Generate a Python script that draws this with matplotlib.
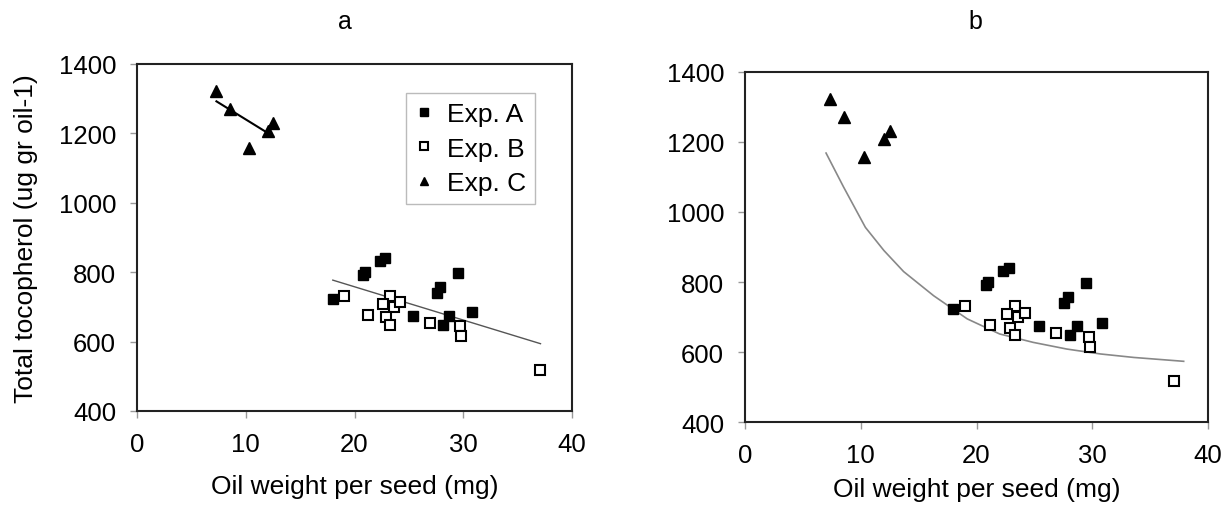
import numpy as np
import matplotlib
matplotlib.use('Agg')
import matplotlib.pyplot as plt

plt.rcParams['font.family'] = ['Liberation Sans', 'DejaVu Sans']

# Exp. A (filled squares)
a_x = [18.0, 20.8, 21.0, 22.3, 22.8, 25.4, 27.6, 27.9, 29.5, 28.1, 28.7, 30.8]
a_y = [723, 792, 800, 833, 841, 675, 739, 758, 797, 649, 675, 684]
# Exp. B (open squares)
b_x = [19.0, 21.2, 23.3, 22.6, 23.6, 24.2, 22.9, 23.3, 26.9, 29.7, 29.8, 37.1]
b_y = [732, 678, 732, 708, 699, 713, 670, 648, 654, 644, 615, 518]
# Exp. C (triangles)
c_x = [7.3, 8.55, 10.3, 12.0, 12.5]
c_y = [1323, 1270, 1157, 1208, 1230]

# model curve in panel b
curve_x = [7.0, 8.5, 10.4, 12.0, 13.7, 16.3, 19.2, 22.0, 24.9, 27.8, 30.7, 33.6, 37.9]
curve_y = [1168, 1072, 956, 890, 830, 761, 695, 652, 628, 609, 595, 585, 574]

xticks = [0, 10, 20, 30, 40]
yticks = [400, 600, 800, 1000, 1200, 1400]

fig = plt.figure(figsize=(12.27, 5.06), dpi=100)
ax1 = fig.add_axes([0.1117, 0.1858, 0.3545, 0.6858])
ax2 = fig.add_axes([0.6072, 0.1634, 0.3773, 0.6929])

ms_sq = 7.2
ms_tri = 8.5
fs = 18.5

for ax in (ax1, ax2):
    ax.plot(a_x, a_y, 's', color='black', ms=ms_sq, mec='black', label='Exp. A', zorder=3)
    ax.plot(b_x, b_y, 's', color='white', ms=ms_sq, mec='black', mew=1.5, label='Exp. B', zorder=3)
    ax.plot(c_x, c_y, '^', color='black', ms=ms_tri, mec='black', label='Exp. C', zorder=3)
    ax.set_xlim(0, 40)
    ax.set_ylim(400, 1400)
    ax.set_xticks(xticks)
    ax.set_yticks(yticks)
    ax.tick_params(direction='out', length=5, width=1, color='#999999',
                   labelsize=fs, pad=10)
    for s in ax.spines.values():
        s.set_linewidth(1.5)
        s.set_color('#222222')
    ax.set_xlabel('Oil weight per seed (mg)', fontsize=19)
    ax.xaxis.label.set_va('center')

# trend lines in panel a
k = np.polyfit(c_x, c_y, 1)
xs = np.array([min(c_x), max(c_x)])
ax1.plot(xs, np.polyval(k, xs), color='black', lw=1.5, zorder=2)

ab_x = a_x + b_x
ab_y = a_y + b_y
k = np.polyfit(ab_x, ab_y, 1)
xs = np.array([min(ab_x), max(ab_x)])
ax1.plot(xs, np.polyval(k, xs), color='#555555', lw=1.0, zorder=2)

ax2.plot(curve_x, curve_y, color='#888888', lw=1.2, zorder=2)

ax1.set_ylabel('Total tocopherol (ug gr oil-1)', fontsize=19)
ax1.yaxis.label.set_va('center')
ax1.yaxis.set_label_coords(-0.255, 0.5)
ax1.xaxis.set_label_coords(0.5, -0.216)
ax2.xaxis.set_label_coords(0.5, -0.19)

leg = ax1.legend(loc='upper right', fontsize=19, markerscale=0.75, frameon=True,
                 fancybox=False, edgecolor='#aaaaaa', handlelength=0.7,
                 handletextpad=0.5, borderpad=0.35, labelspacing=0.4,
                 bbox_to_anchor=(0.945, 0.955))
leg.get_frame().set_linewidth(1.0)

fig.text(0.2812, 1 - 22 / 506, 'a', ha='center', va='center', fontsize=18)
fig.text(0.7947, 1 - 22 / 506, 'b', ha='center', va='center', fontsize=18)

fig.savefig('out.png', dpi=100)
